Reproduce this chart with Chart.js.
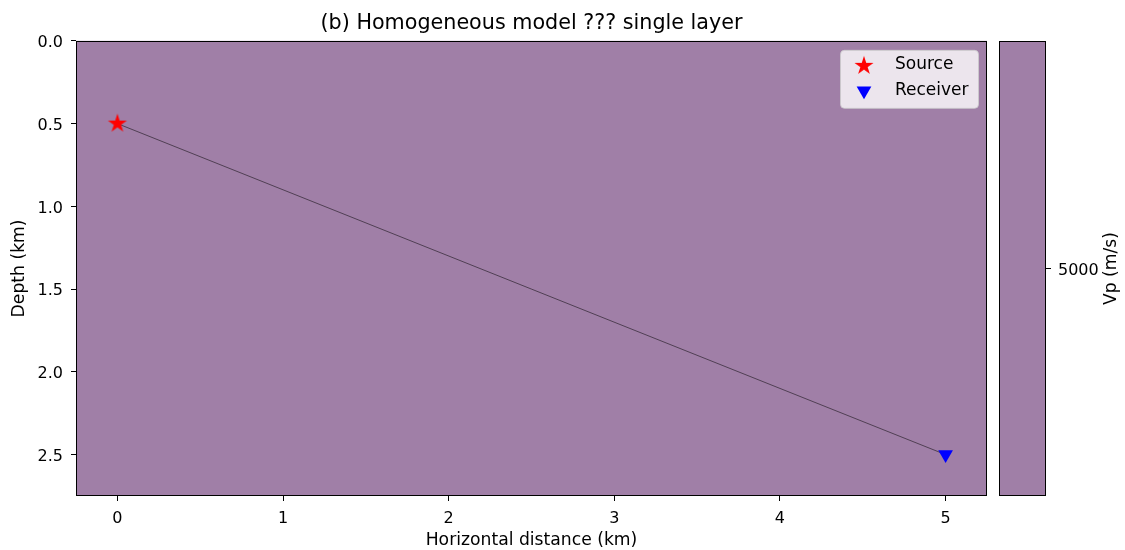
<!DOCTYPE html>
<html>
<head>
<meta charset="utf-8">
<script src="https://cdn.jsdelivr.net/npm/chart.js@4"></script>
<style>
  html, body { margin: 0; padding: 0; background: #fff; }
  #wrap { position: relative; width: 1125px; height: 550px; }
  #wrap canvas { position: absolute; left: 0; top: 0; }
</style>
</head>
<body>
<div id="wrap">
  <canvas id="model" width="1125" height="550"></canvas>
  <canvas id="cbar" width="1125" height="550"></canvas>
</div>
<script>
// model geometry (km)
const xExtent = [-0.25, 5.25];
const zExtent = [0, 2.75];
const xTicks = [0, 1, 2, 3, 4, 5];
const zTicks = [0, 0.5, 1.0, 1.5, 2.0, 2.5];
const source = [{ x: 0, y: 0.5 }];
const receiver = [{ x: 5, y: 2.5 }];
const ray = [{ x: 0, y: 0.5 }, { x: 5, y: 2.5 }];
// velocity (m/s)
const vp = 5000;
const vpRange = [4999.5, 5000.5];
const cbarTicks = [5000];

const vpColor = '#a07fa7';
const FONT = 'DejaVu Sans';
const TICK = 16;
const LABEL = 17.2;
Chart.defaults.font.family = FONT;
Chart.defaults.font.size = TICK;
Chart.defaults.color = '#000';
Chart.defaults.animation = false;

// filled five point star like matplotlib '*'
function makeStar(r, color) {
  const c = document.createElement('canvas');
  c.width = c.height = Math.ceil(2 * r + 2);
  const g = c.getContext('2d');
  const cx = c.width / 2, cy = c.height / 2;
  g.beginPath();
  for (let i = 0; i < 10; i++) {
    const rr = i % 2 ? r * 0.382 : r;
    const a = -Math.PI / 2 + i * Math.PI / 5;
    g.lineTo(cx + rr * Math.cos(a), cy + rr * Math.sin(a));
  }
  g.closePath();
  g.fillStyle = color;
  g.fill();
  return c;
}
const starImg = makeStar(10, '#ff0000');

const frame = {
  id: 'frame',
  beforeDatasetsDraw(chart) {
    const { ctx, scales: { x, y } } = chart;
    if (chart.canvas.id !== 'model') return;
    const x0 = x.getPixelForValue(xExtent[0]), x1 = x.getPixelForValue(xExtent[1]);
    const y0 = y.getPixelForValue(zExtent[0]), y1 = y.getPixelForValue(zExtent[1]);
    ctx.save();
    ctx.fillStyle = vpColor;
    ctx.fillRect(x0, y0, x1 - x0, y1 - y0);
    ctx.restore();
  },
  afterDatasetsDraw(chart) {
    const { ctx, chartArea: a } = chart;
    ctx.save();
    ctx.strokeStyle = '#000';
    ctx.lineWidth = 1;
    ctx.strokeRect(Math.round(a.left) + 0.5, Math.round(a.top) + 0.5,
      Math.round(a.right - a.left) - 1, Math.round(a.bottom - a.top) - 1);
    ctx.restore();
  }
};

const legendBox = {
  id: 'legendBox',
  afterDraw(chart) {
    const { ctx, chartArea: a } = chart;
    const w = 138, h = 58;
    const bx = a.right - 9 - w, by = a.top + 9;
    ctx.save();
    ctx.fillStyle = 'rgba(255,255,255,0.8)';
    ctx.strokeStyle = 'rgba(204,204,204,0.8)';
    ctx.beginPath();
    ctx.roundRect(bx + 0.5, by + 0.5, w, h, 4);
    ctx.fill();
    ctx.stroke();
    const items = [
      { label: chart.data.datasets[0].label, y: by + 15 },
      { label: chart.data.datasets[1].label, y: by + 41 }
    ];
    ctx.drawImage(starImg, bx + 24 - starImg.width / 2, items[0].y + 1 - starImg.height / 2);
    // triangle down
    const tx = bx + 24, ty = items[1].y, r = 8.5;
    ctx.fillStyle = '#0000ff';
    ctx.beginPath();
    ctx.moveTo(tx - r * 0.866, ty - r / 2);
    ctx.lineTo(tx + r * 0.866, ty - r / 2);
    ctx.lineTo(tx, ty + r);
    ctx.closePath();
    ctx.fill();
    ctx.fillStyle = '#000';
    ctx.font = '17px ' + FONT;
    ctx.textBaseline = 'middle';
    ctx.textAlign = 'left';
    items.forEach(it => ctx.fillText(it.label, bx + 55, it.y));
    ctx.restore();
  }
};

new Chart(document.getElementById('model'), {
  type: 'scatter',
  data: {
    datasets: [
      { label: 'Source', data: source, pointStyle: starImg, pointRadius: 10 },
      { label: 'Receiver', data: receiver, pointStyle: 'triangle', rotation: 180,
        pointRadius: 8.5, backgroundColor: '#0000ff', borderColor: '#0000ff', borderWidth: 0 },
      { type: 'line', label: 'ray', data: ray, showLine: true, pointRadius: 0,
        borderColor: 'rgba(0,0,0,0.5)', borderWidth: 1 }
    ]
  },
  options: {
    responsive: false,
    layout: { padding: { left: 0, right: 138, top: 0, bottom: 0 } },
    plugins: {
      legend: { display: false },
      tooltip: { enabled: false },
      title: {
        display: true,
        fullSize: false,
        text: '(b) Homogeneous model ??? single layer',
        font: { size: 20.7, weight: 'normal' },
        color: '#000',
        padding: { top: 11, bottom: 5 }
      }
    },
    scales: {
      x: {
        type: 'linear', min: xExtent[0], max: xExtent[1],
        afterBuildTicks: s => { s.ticks = xTicks.map(v => ({ value: v })); },
        afterFit: s => { s.height = 54; },
        ticks: { padding: 8, maxRotation: 0, callback: v => String(v) },
        grid: { drawOnChartArea: false, drawTicks: true, tickLength: 5, tickColor: '#000' },
        border: { display: false },
        title: { display: true, text: 'Horizontal distance (km)',
          font: { size: LABEL, lineHeight: 1 }, padding: { top: 0, bottom: 0.5 } }
      },
      y: {
        type: 'linear', reverse: true, min: zExtent[0], max: zExtent[1],
        afterBuildTicks: s => { s.ticks = zTicks.map(v => ({ value: v })); },
        afterFit: s => { s.width = 76; },
        ticks: { padding: 8, labelOffset: 2, callback: v => v.toFixed(1) },
        grid: { drawOnChartArea: false, drawTicks: true, tickLength: 5, tickColor: '#000' },
        border: { display: false },
        title: { display: true, text: 'Depth (km)',
          font: { size: LABEL, lineHeight: 1 }, padding: { top: 11.4, bottom: 0 } }
      }
    }
  },
  plugins: [frame, legendBox]
});

const cbarLabel = {
  id: 'cbarLabel',
  afterDraw(chart) {
    const { ctx, chartArea: a } = chart;
    ctx.save();
    ctx.translate(1112, (a.top + a.bottom) / 2);
    ctx.rotate(-Math.PI / 2);
    ctx.font = LABEL + 'px ' + FONT;
    ctx.fillStyle = '#000';
    ctx.textAlign = 'center';
    ctx.textBaseline = 'middle';
    ctx.fillText('Vp (m/s)', 0, 0);
    ctx.restore();
  }
};

new Chart(document.getElementById('cbar'), {
  type: 'bar',
  data: {
    labels: ['Vp'],
    datasets: [{ label: 'Vp', data: [vpRange], backgroundColor: vpColor,
      barPercentage: 1, categoryPercentage: 1, borderWidth: 0 }]
  },
  options: {
    responsive: false,
    layout: { padding: { left: 999, right: 0, top: 41, bottom: 54 } },
    plugins: { legend: { display: false }, tooltip: { enabled: false } },
    scales: {
      x: { display: false },
      y: {
        position: 'right', min: vpRange[0], max: vpRange[1],
        afterBuildTicks: s => { s.ticks = cbarTicks.map(v => ({ value: v })); },
        afterFit: s => { s.width = 79; },
        ticks: { padding: 7, labelOffset: 2, callback: v => String(v) },
        grid: { drawOnChartArea: false, drawTicks: true, tickLength: 5, tickColor: '#000' },
        border: { display: false }
      }
    }
  },
  plugins: [frame, cbarLabel]
});
</script>
</body>
</html>
